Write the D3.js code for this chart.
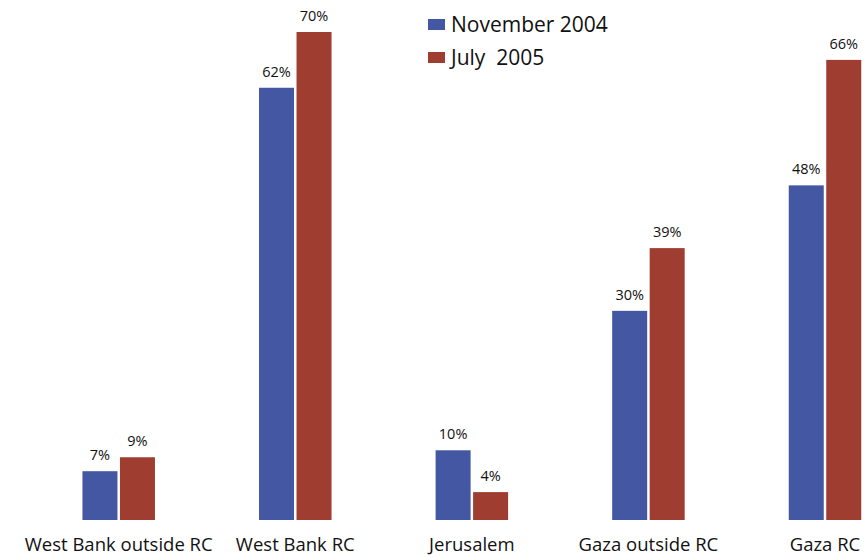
<!DOCTYPE html>
<html><head><meta charset="utf-8">
<script src="https://cdn.jsdelivr.net/npm/d3@7"></script>
<style>body{margin:0;background:#fff;} svg{display:block;}</style>
</head><body>
<svg id="chart" width="864" height="557"></svg>
<script>
const categories = ["West Bank outside RC", "West Bank RC", "Jerusalem", "Gaza outside RC", "Gaza RC"];
const seriesNames = ["November 2004", "July  2005"];
const nov2004 = [7, 62, 10, 30, 48];
const jul2005 = [9, 70, 4, 39, 66];
const colors = ["#4357a2", "#9e3d30"];

const svg = d3.select("#chart");
const font = "'Open Sans', 'Noto Sans', sans-serif";
const x = d3.scalePoint().domain(categories).range([118.7, 825]);
const y = d3.scaleLinear().domain([0, 70]).range([520, 32]);
const barW = 35, gap = 2.5;
const series = [nov2004, jul2005];

series.forEach((vals, si) => {
  const g = svg.append("g");
  const xOff = si === 0 ? -gap/2 - barW : gap/2;
  g.selectAll("rect").data(categories).join("rect")
    .attr("x", (c) => x(c) + xOff)
    .attr("y", (c, i) => y(vals[i]))
    .attr("width", barW)
    .attr("height", (c, i) => y(0) - y(vals[i]))
    .attr("fill", colors[si]);
  g.selectAll("text").data(categories).join("text")
    .attr("x", (c) => x(c) + xOff + barW/2)
    .attr("y", (c, i) => y(vals[i]) - 11)
    .attr("text-anchor", "middle")
    .attr("font-family", font).attr("font-size", 14.5).attr("fill", "#111")
    .text((c, i) => vals[i] + "%");
});

svg.append("g").selectAll("text").data(categories).join("text")
  .attr("x", (c) => x(c))
  .attr("y", 551)
  .attr("text-anchor", "middle")
  .attr("font-family", font).attr("font-size", 18.5).attr("fill", "#111")
  .text((c) => c);

const leg = svg.append("g");
seriesNames.forEach((n, i) => {
  leg.append("rect").attr("x", 428).attr("y", 19 + i*33).attr("width", 17).attr("height", 11).attr("fill", colors[i]);
  leg.append("text").attr("x", 451).attr("y", 32 + i*33)
    .attr("font-family", font).attr("font-size", 21).attr("fill", "#111")
    .attr("xml:space", "preserve").style("white-space", "pre")
    .text(n);
});
</script>
</body></html>
